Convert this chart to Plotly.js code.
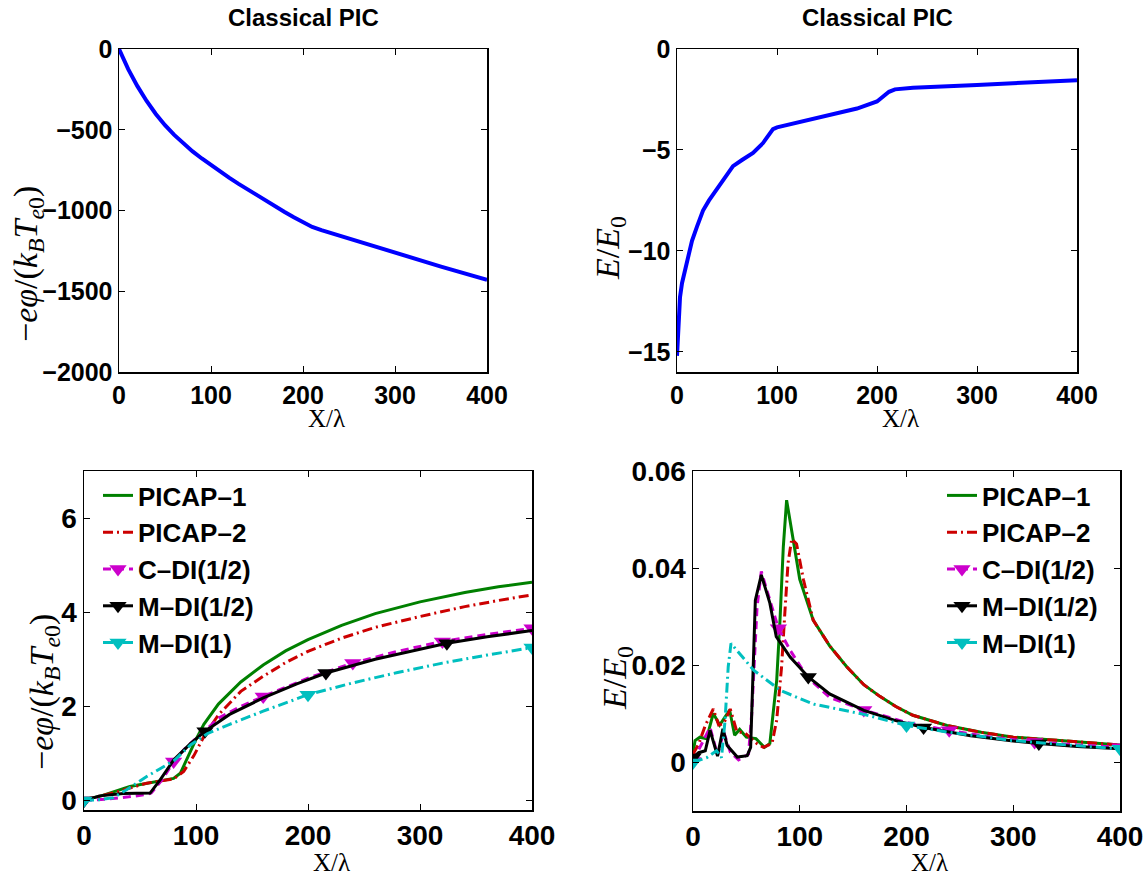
<!DOCTYPE html>
<html>
<head>
<meta charset="utf-8">
<script src="https://cdn.plot.ly/plotly-3.0.1.min.js"></script>
<style>html,body{margin:0;padding:0;background:#fff;}#chart{width:1148px;height:875px;}</style>
</head>
<body>
<div id="chart"></div>
<script>
// ---------- Top-left: classical PIC potential ----------
const clPhiX = [0, 10, 20, 30, 40, 50, 60, 70, 80, 90, 100, 110, 120, 130, 140, 150, 160, 170, 180, 190, 200, 210, 220, 250, 300, 350, 400];
const clPhiY = [0, -125, -230, -322, -402, -472, -532, -586, -634, -678, -720, -760, -798, -835, -871, -906, -941, -975, -1009, -1042, -1075, -1102, -1122, -1175, -1262, -1347, -1430];

// ---------- Top-right: classical PIC field ----------
const clEX = [0, 1, 2, 3, 5, 8, 11, 15, 20, 26, 32, 39, 46, 52, 56, 65, 76, 86, 92, 96, 100, 120, 140, 160, 180, 200, 206, 212, 218, 236, 300, 350, 400];
const clEY = [-15.2, -13.8, -12.9, -12.3, -11.6, -11.0, -10.3, -9.5, -8.8, -8.0, -7.5, -7.0, -6.5, -6.05, -5.8, -5.5, -5.15, -4.66, -4.25, -3.97, -3.88, -3.65, -3.42, -3.2, -2.95, -2.6, -2.35, -2.12, -2.0, -1.92, -1.78, -1.66, -1.55];

// ---------- Bottom-left: potential, five schemes ----------
const p1PhiX = [0, 14, 41, 62, 80, 86, 92, 100, 107, 120, 140, 160, 180, 200, 230, 260, 300, 340, 370, 400];
const p1PhiY = [0.02, 0.09, 0.30, 0.39, 0.47, 0.58, 0.90, 1.30, 1.62, 2.05, 2.52, 2.88, 3.18, 3.42, 3.72, 3.97, 4.22, 4.42, 4.54, 4.64];
const p2PhiX = [0, 26, 56, 80, 89, 98, 107, 120, 140, 160, 180, 200, 230, 260, 300, 340, 370, 400];
const p2PhiY = [0.02, 0.16, 0.37, 0.46, 0.62, 0.95, 1.36, 1.82, 2.32, 2.64, 2.93, 3.17, 3.45, 3.68, 3.91, 4.12, 4.25, 4.37];
const cdiPhiX = [0, 20, 40, 56, 60, 70, 80, 90, 100, 107, 120, 140, 160, 200, 240, 280, 320, 360, 400];
const cdiPhiY = [0, 0.03, 0.08, 0.13, 0.16, 0.45, 0.83, 1.10, 1.32, 1.46, 1.75, 2.00, 2.21, 2.60, 2.92, 3.17, 3.38, 3.53, 3.66];
const mdiPhiX = [0, 14, 35, 59, 68, 80, 95, 108, 130, 160, 190, 216, 260, 300, 324, 360, 400];
const mdiPhiY = [0, 0.10, 0.15, 0.16, 0.44, 0.86, 1.21, 1.47, 1.83, 2.18, 2.48, 2.71, 3.00, 3.22, 3.34, 3.48, 3.61];
const m1PhiX = [0, 14, 26, 38, 56, 70, 81, 95, 110, 130, 160, 200, 240, 280, 320, 360, 400];
const m1PhiY = [0, 0.02, 0.06, 0.23, 0.51, 0.70, 0.86, 1.18, 1.42, 1.62, 1.90, 2.25, 2.50, 2.72, 2.92, 3.09, 3.25];

// ---------- Bottom-right: field, five schemes ----------
const p1EX = [0, 1.9, 6.5, 12.7, 19, 25, 34.3, 39, 43.7, 50, 59, 67, 72, 78.4, 81.5, 84.6, 87.7, 94, 100, 112.6, 128, 144, 160, 175, 190, 206, 238, 270, 300, 350, 400];
const p1EY = [0.0017, 0.0045, 0.0052, 0.0049, 0.0101, 0.0077, 0.0108, 0.0056, 0.0068, 0.0052, 0.0049, 0.0031, 0.0039, 0.0169, 0.0293, 0.0444, 0.0540, 0.0460, 0.0377, 0.0293, 0.0240, 0.0197, 0.0160, 0.0136, 0.0115, 0.0097, 0.0076, 0.0062, 0.0052, 0.0044, 0.0036];
const p2EX = [0, 5.3, 11.5, 19, 24, 28.7, 34.9, 41, 49, 59.8, 66, 74, 78.4, 83, 86, 89, 92.5, 97, 103.4, 112.6, 128, 144, 160, 175, 190, 206, 238, 270, 300, 350, 400];
const p2EY = [0.0017, 0.0038, 0.0076, 0.0110, 0.0077, 0.0080, 0.0110, 0.0064, 0.0060, 0.0039, 0.0031, 0.0039, 0.0087, 0.0197, 0.0307, 0.0410, 0.0460, 0.0450, 0.0377, 0.0293, 0.0240, 0.0197, 0.0160, 0.0136, 0.0115, 0.0097, 0.0076, 0.0062, 0.0052, 0.0044, 0.0036];
const cdiEX = [0, 6.7, 16, 23, 28.7, 35, 42.7, 52, 55, 60, 64, 72, 80, 91, 107, 128, 160, 200, 240, 280, 320, 360, 400];
const cdiEY = [0.0003, 0.0031, 0.0072, 0.0015, 0.0063, 0.0021, 0.0005, 0.0017, 0.0099, 0.0320, 0.0393, 0.0334, 0.0276, 0.0231, 0.0176, 0.0134, 0.0108, 0.0082, 0.0066, 0.0052, 0.0042, 0.0036, 0.0031];
const mdiEX = [0, 5.3, 11.5, 16, 23, 28, 32, 41.5, 50.8, 54, 58.4, 64, 72, 78, 91, 108, 128, 160, 190, 216, 260, 300, 324, 360, 400];
const mdiEY = [0.0010, 0.0020, 0.0024, 0.0066, 0.0013, 0.0069, 0.0035, 0.0011, 0.0014, 0.0031, 0.0334, 0.0386, 0.0328, 0.0259, 0.0217, 0.0176, 0.0141, 0.0107, 0.0086, 0.0072, 0.0055, 0.0044, 0.0039, 0.0033, 0.0028];
const m1EX = [0, 13, 22, 26.7, 30, 33, 35.6, 44, 56.8, 82, 113, 160, 200, 240, 300, 350, 400];
const m1EY = [0, 0.0010, 0.0024, 0.0010, 0.0086, 0.0197, 0.0245, 0.0224, 0.0190, 0.0148, 0.0120, 0.0099, 0.0076, 0.0062, 0.0045, 0.0036, 0.0028];

// x values that carry a triangle marker
const cdiMarkX = [0, 80, 160, 240, 320, 400];
const mdiMarkX = [0, 108, 216, 324];
const m1MarkX = [0, 200, 400];

const names = ['PICAP\u20131', 'PICAP\u20132', 'C\u2013DI(1/2)', 'M\u2013DI(1/2)', 'M\u2013DI(1)'];
const colors = ['#008000', '#cc0000', '#cc00cc', '#000000', '#00bfbf'];
const dashes = ['solid', '10px,4px,2px,4px', '8px,5px', 'solid', '10px,4px,2px,4px'];

function markIdx(xs, marks) {
  const out = [];
  xs.forEach((v, k) => { if (marks.indexOf(v) >= 0) out.push(k); });
  return out;
}

function series(xs, ys, i, marks, xa, ya, lg) {
  const t = {
    x: xs, y: ys, type: 'scatter', name: names[i], xaxis: xa, yaxis: ya,
    legend: lg, showlegend: true,
    line: {color: colors[i], width: 3, dash: dashes[i]},
    mode: marks ? 'lines+markers' : 'lines'
  };
  if (marks) {
    t.marker = {symbol: 'triangle-down', size: 15, color: colors[i], line: {width: 0}};
    t.selectedpoints = markIdx(xs, marks);
    t.selected = {marker: {opacity: 1}};
    t.unselected = {marker: {opacity: 0}};
  }
  return t;
}

const data = [
  {x: clPhiX, y: clPhiY, type: 'scatter', mode: 'lines', line: {color: '#0000ff', width: 4}, xaxis: 'x', yaxis: 'y', showlegend: false},
  {x: clEX, y: clEY, type: 'scatter', mode: 'lines', line: {color: '#0000ff', width: 4}, xaxis: 'x2', yaxis: 'y2', showlegend: false},
  series(p1PhiX, p1PhiY, 0, null, 'x3', 'y3', 'legend'),
  series(p2PhiX, p2PhiY, 1, null, 'x3', 'y3', 'legend'),
  series(cdiPhiX, cdiPhiY, 2, cdiMarkX, 'x3', 'y3', 'legend'),
  series(mdiPhiX, mdiPhiY, 3, mdiMarkX, 'x3', 'y3', 'legend'),
  series(m1PhiX, m1PhiY, 4, m1MarkX, 'x3', 'y3', 'legend'),
  series(p1EX, p1EY, 0, null, 'x4', 'y4', 'legend2'),
  series(p2EX, p2EY, 1, null, 'x4', 'y4', 'legend2'),
  series(cdiEX, cdiEY, 2, cdiMarkX, 'x4', 'y4', 'legend2'),
  series(mdiEX, mdiEY, 3, mdiMarkX, 'x4', 'y4', 'legend2'),
  series(m1EX, m1EY, 4, m1MarkX, 'x4', 'y4', 'legend2')
];

const W = 1148, H = 875;
const px = v => v / W;
const py = v => 1 - v / H;

function ax(dom, range, tickvals, ticktext, fs, anchor) {
  const a = {
    domain: dom, range: range, anchor: anchor, tickvals: tickvals,
    showline: true, linecolor: '#000', linewidth: 1.5, mirror: 'ticks',
    ticks: 'inside', ticklen: 6, tickwidth: 1, tickcolor: '#000',
    showgrid: false, zeroline: false, fixedrange: true,
    tickfont: {family: 'Liberation Sans, Arial, sans-serif', size: fs, color: '#000', weight: 'bold'}
  };
  if (ticktext) a.ticktext = ticktext;
  return a;
}

const xt = [0, 100, 200, 300, 400];
const serif = 'Liberation Serif, Times New Roman, serif';
const phiLabel = '\u2212<i>e\u03c6</i>/(<i>k</i><sub><i>B</i></sub><i>T</i><sub><i>e</i>0</sub>)';
const eLabel = '<i>E</i>/<i>E</i><sub>0</sub>';

function xLab(x, y) { return {text: 'X/\u03bb', x: px(x), y: py(y), xref: 'paper', yref: 'paper', showarrow: false, xanchor: 'center', yanchor: 'middle', font: {family: serif, size: 25, color: '#000'}}; }
function yLab(t, x, y) { return {text: t, x: px(x), y: py(y), xref: 'paper', yref: 'paper', showarrow: false, textangle: -90, xanchor: 'center', yanchor: 'middle', font: {family: serif, size: 34, color: '#000'}}; }
function tLab(x, y) { return {text: '<b>Classical PIC</b>', x: px(x), y: py(y), xref: 'paper', yref: 'paper', showarrow: false, xanchor: 'center', yanchor: 'middle', font: {family: 'Liberation Sans, Arial, sans-serif', size: 24, color: '#000'}}; }

const legendBase = {
  bgcolor: 'rgba(0,0,0,0)', borderwidth: 0, xanchor: 'left', yanchor: 'top',
  font: {family: 'Liberation Sans, Arial, sans-serif', size: 26, color: '#000', weight: 'bold'},
  itemsizing: 'trace', tracegroupgap: 0
};

const layout = {
  width: W, height: H, margin: {l: 0, r: 0, t: 0, b: 0},
  paper_bgcolor: '#fff', plot_bgcolor: '#fff',
  showlegend: true,
  xaxis: ax([px(119), px(487)], [0, 400], xt, null, 25, 'y'),
  yaxis: ax([py(372), py(49)], [-2000, 0], [-2000, -1500, -1000, -500, 0], null, 25, 'x'),
  xaxis2: ax([px(677), px(1077)], [0, 400], xt, null, 25, 'y2'),
  yaxis2: ax([py(372), py(49)], [-16, 0], [-15, -10, -5, 0], null, 25, 'x2'),
  xaxis3: ax([px(84), px(532)], [0, 400], xt, null, 28, 'y3'),
  yaxis3: ax([py(810), py(471)], [-0.2, 7], [0, 2, 4, 6], null, 28, 'x3'),
  xaxis4: ax([px(693), px(1120)], [0, 400], xt, null, 28, 'y4'),
  yaxis4: ax([py(811), py(471)], [-0.01, 0.06], [0, 0.02, 0.04, 0.06], ['0', '0.02', '0.04', '0.06'], 28, 'x4'),
  legend: Object.assign({}, legendBase, {x: px(98), y: py(472)}),
  legend2: Object.assign({}, legendBase, {x: px(942), y: py(472)}),
  annotations: [
    tLab(303, 17), tLab(877, 17),
    xLab(326, 418), xLab(900, 418), xLab(331, 862), xLab(929, 862),
    yLab(phiLabel, 28, 264), yLab(eLabel, 610, 248),
    yLab(phiLabel, 44, 692), yLab(eLabel, 617, 678)
  ]
};

Plotly.newPlot('chart', data, layout, {displayModeBar: false, staticPlot: true});
</script>
</body>
</html>
